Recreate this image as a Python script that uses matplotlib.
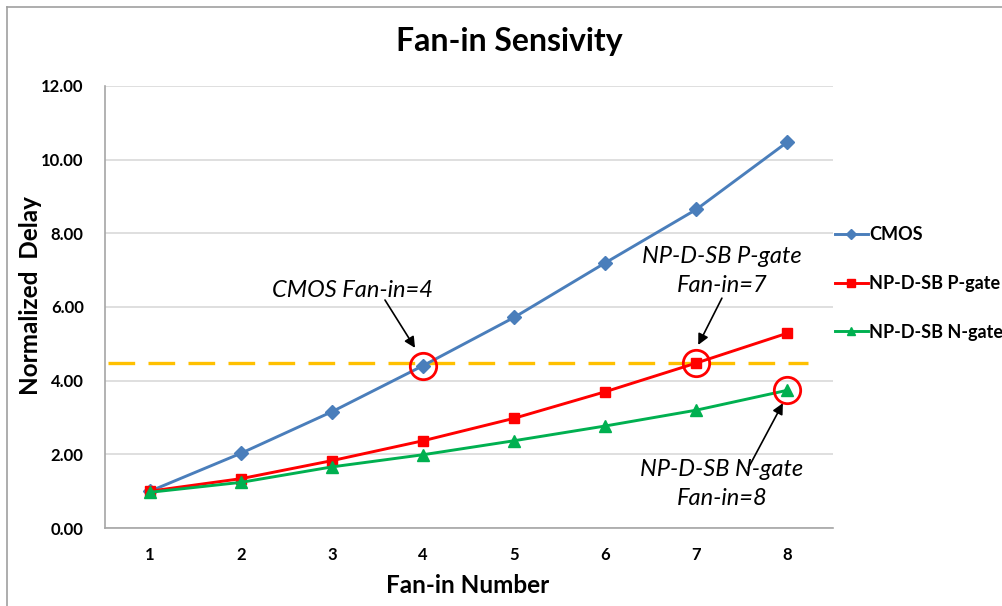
import matplotlib
matplotlib.use('Agg')
from matplotlib import pyplot as plt
from matplotlib.lines import Line2D
import numpy as np

plt.rcParams['font.family'] = ['Lato', 'DejaVu Sans']

# 数据
fan_in = [1, 2, 3, 4, 5, 6, 7, 8]
cmos = [1.00, 2.03, 3.16, 4.41, 5.72, 7.20, 8.65, 10.48]
p_gate = [1.00, 1.34, 1.83, 2.37, 2.98, 3.70, 4.48, 5.29]
n_gate = [0.97, 1.24, 1.66, 1.99, 2.37, 2.77, 3.20, 3.74]
threshold = 4.47
y_ticks = [0, 2, 4, 6, 8, 10, 12]

fig = plt.figure(figsize=(10.03, 6.06), dpi=100)
ax = fig.add_axes([0.1042, 0.1287, 0.7263, 0.7294])

# 外框
fig.add_artist(Line2D([0.0073, 0.0073], [0, 0.989], color='#a0a0a0', lw=1.2, transform=fig.transFigure))
fig.add_artist(Line2D([0.0073, 1], [0.989, 0.989], color='#a0a0a0', lw=1.2, transform=fig.transFigure))

ax.plot(fan_in, cmos, color='#4A7EBB', lw=2.1, marker='D', ms=7, label='CMOS', zorder=4)
ax.plot(fan_in, p_gate, color='#FF0000', lw=2.1, marker='s', ms=7.5, label='NP-D-SB P-gate', zorder=4)
ax.plot(fan_in, n_gate, color='#00B050', lw=2.1, marker='^', ms=8, label='NP-D-SB N-gate', zorder=4)

ax.plot([0.54, 8.23], [threshold, threshold], color='#FFC000', lw=2.4, dashes=(8, 4), zorder=3)

# 红圈
for x, y in [(4, cmos[3]), (7, p_gate[6]), (8, n_gate[7])]:
    ax.plot(x, y, marker='o', ms=19, mfc='none', mec='#FF0000', mew=2, zorder=5)

arrow = dict(arrowstyle='-|>', color='black', lw=1.2, mutation_scale=16, shrinkA=0, shrinkB=0)
ax.annotate('', xy=(3.91, 4.89), xytext=(3.58, 6.19), arrowprops=arrow)
ax.annotate('', xy=(7.02, 4.97), xytext=(7.28, 6.24), arrowprops=arrow)
ax.annotate('', xy=(7.95, 3.39), xytext=(7.57, 1.63), arrowprops=arrow)
ax.text(3.22, 6.46, 'CMOS Fan-in=4', fontsize=17, style='italic', ha='center', va='center')
ax.text(7.28, 6.98, 'NP-D-SB P-gate\nFan-in=7', fontsize=17, style='italic', ha='center', va='center',
        linespacing=1.45)
ax.text(7.28, 1.19, 'NP-D-SB N-gate\nFan-in=8', fontsize=17, style='italic', ha='center', va='center',
        linespacing=1.45)

ax.set_xlim(0.5, 8.5)
ax.set_ylim(0, 12)
ax.set_xticks(fan_in)
ax.set_xticklabels([str(i) for i in fan_in], fontsize=12, fontweight='bold')
ax.set_yticks(y_ticks)
ax.set_yticklabels(['%.2f' % v for v in y_ticks], fontsize=12, fontweight='bold')
ax.tick_params(axis='x', length=0, pad=14)
ax.tick_params(axis='y', length=0, pad=15)
ax.grid(axis='y', color='#d9d9d9', lw=1.2)
ax.set_axisbelow(True)
for s in ['top', 'right']:
    ax.spines[s].set_visible(False)
for s in ['left', 'bottom']:
    ax.spines[s].set_color('#a6a6a6')
    ax.spines[s].set_linewidth(1.2)

fig.text(0.508, 1 - 42 / 606, 'Fan-in Sensivity', fontsize=23, fontweight='bold', ha='center', va='center')
ax.set_xlabel('Fan-in Number', fontsize=17.5, fontweight='bold')
ax.set_ylabel('Normalized  Delay', fontsize=17.5, fontweight='bold')
ax.xaxis.set_label_coords(0.498, -0.104)
ax.yaxis.set_label_coords(-0.086, 0.527)

leg = ax.legend(loc='center left', bbox_to_anchor=(1.0028, 0.553), frameon=False,
                prop={'weight': 'bold', 'size': 13}, handlelength=1.8, handletextpad=0.1,
                labelspacing=1.75, markerscale=0.8, borderpad=0, borderaxespad=0)

fig.savefig('out.png', dpi=100)
